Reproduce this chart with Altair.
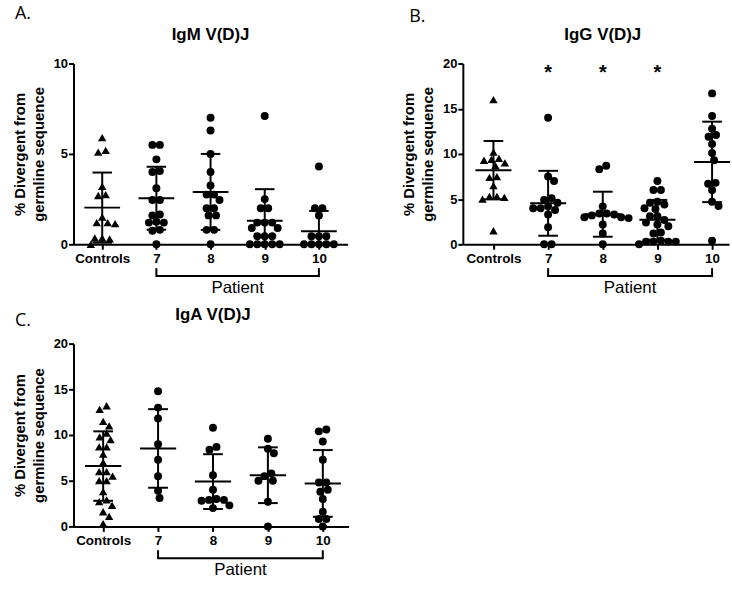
import altair as alt
import pandas as pd

# ---------------- data ----------------
groups = ["Controls", "7", "8", "9", "10"]
patient_groups = ["7", "8", "9", "10"]

# A. IgM V(D)J
igm_controls = [5.9, 5.2, 5.1, 3.2, 2.75, 2.7, 1.5, 1.2, 1.2, 1.15, 0.35, 0.35, 0.3, 0.0]
igm_p7 = [5.5, 5.5, 4.7, 4.05, 4.0, 3.1, 2.45, 2.45, 1.65, 1.6, 1.25, 1.2, 1.2, 0.8, 0.75, 0.0]
igm_p8 = [7.0, 6.3, 5.0, 4.0, 3.25, 2.75, 2.75, 2.45, 2.0, 2.0, 1.6, 1.6, 0.8, 0.8, 0.0]
igm_p9 = [7.1, 2.5, 2.0, 2.0, 1.2, 1.2, 1.2, 0.9, 0.9, 0.45, 0.45, 0.45, 0.0, 0.0, 0.0, 0.0, 0.0]
igm_p10 = [4.3, 2.0, 2.0, 1.6, 0.45, 0.45, 0.45, 0.0, 0.0, 0.0, 0.0, 0.0]
igm_mean = [2.03, 2.55, 2.9, 1.3, 0.72]
igm_sd = [1.94, 1.74, 2.1, 1.75, 1.13]

# B. IgG V(D)J
igg_controls = [16.0, 10.2, 9.5, 9.4, 9.3, 9.0, 8.7, 7.5, 7.4, 6.5, 5.3, 5.3, 5.2, 5.0, 1.5]
igg_p7 = [14.0, 7.5, 7.0, 5.1, 4.9, 4.6, 4.2, 4.0, 4.0, 3.8, 3.3, 1.9, 0.0, 0.0]
igg_p8 = [8.7, 8.3, 4.2, 3.4, 3.4, 3.3, 3.2, 3.0, 3.0, 2.9, 2.2, 1.2, 0.0]
igg_p9 = [7.0, 6.0, 6.0, 4.7, 4.6, 4.4, 4.0, 3.9, 3.1, 3.1, 2.7, 2.4, 2.2, 2.0, 1.3, 1.2,
          0.4, 0.3, 0.3, 0.3, 0.3, 0.0]
igg_p10 = [16.7, 14.2, 12.8, 12.1, 11.9, 11.1, 10.1, 9.3, 6.8, 6.7, 6.0, 4.7, 4.25, 0.4]
igg_mean = [8.2, 4.54, 3.33, 2.71, 9.12]
igg_sd = [3.23, 3.59, 2.49, 2.2, 4.45]
igg_star_groups = ["7", "8", "9"]
igg_star_level = 19.4

# C. IgA V(D)J
iga_controls = [13.2, 12.8, 11.5, 11.0, 10.2, 9.8, 9.5, 8.7, 8.7, 7.9, 7.0, 6.0, 6.0, 5.5,
                5.0, 5.0, 3.8, 2.9, 2.7, 2.3, 1.6, 1.1, 0.3]
iga_p7 = [14.8, 13.0, 11.8, 9.0, 7.3, 5.5, 3.9, 3.1]
iga_p8 = [10.8, 8.7, 8.4, 5.6, 4.0, 3.0, 2.9, 2.8, 2.9, 2.3, 2.0]
iga_p9 = [9.6, 8.5, 8.0, 5.8, 5.5, 5.0, 5.0, 2.7, 0.0]
iga_p10 = [10.6, 10.4, 9.3, 7.3, 4.8, 4.8, 4.0, 3.8, 3.0, 1.6, 0.8, 0.8, 0.0]
iga_mean = [6.6, 8.53, 4.9, 5.6, 4.7]
iga_sd = [3.8, 4.3, 3.0, 3.05, 3.65]

y_title = ["% Divergent from", "germline sequence"]
patient_label = "Patient"

FONT = "Liberation Sans"
INK = "#000000"


def swarm_offsets(vals, ppy, d=7.5):
    """Column-scatter layout: horizontal pixel offsets so that dots do not pile up."""
    n = len(vals)
    order = sorted(range(n), key=lambda i: -vals[i])
    rows = []
    for i in order:
        if rows and (vals[rows[-1][0]] - vals[i]) * ppy < 4.0:
            rows[-1].append(i)
        else:
            rows.append([i])
    placed = []
    offs = [0.0] * n

    def free(x, y, pts):
        return all((x - px) ** 2 + (y - py) ** 2 >= d * d - 1e-9 for px, py in pts)

    for row in rows:
        cur = []
        for k, i in enumerate(row):
            y = vals[i] * ppy
            sgn = 1 if k % 2 == 0 else -1
            j = 0
            x = 0.0
            while True:
                cands = [0.0] if j == 0 else [sgn * j * 0.5, -sgn * j * 0.5]
                hit = None
                for c in cands:
                    if free(c, y, placed + [(p[0], p[1]) for p in cur]):
                        hit = c
                        break
                if hit is not None:
                    x = hit
                    break
                j += 1
            cur.append((x, y, i))
        m = sum(p[0] for p in cur) / len(cur)
        # slide the whole row so it sits as centred as collisions allow
        shifts = sorted((s * 0.5 for s in range(-80, 81)), key=lambda t: (abs(m + t), abs(t)))
        for t in shifts:
            shifted = [(p[0] + t, p[1], p[2]) for p in cur]
            if all(free(p[0], p[1], placed) for p in shifted):
                cur = shifted
                break
        for x, y, i in cur:
            offs[i] = x
        placed += [(x, y) for x, y, _ in cur]
    return offs


def panel(letter, letter_xy, title, ymax, yticks, width, height, xdom, series,
          means, sds, stars=None):
    ppx = width / (xdom[1] - xdom[0])
    ppy = height / ymax
    recs = []
    for gi, vals in enumerate(series):
        offs = swarm_offsets(vals, ppy)
        kind = "control" if gi == 0 else "patient"
        for v, o in zip(vals, offs):
            recs.append({"pos": gi + o / ppx, "value": v, "kind": kind})
    pts = pd.DataFrame(recs)

    xs = alt.Scale(domain=xdom, nice=False, zero=False)
    ys = alt.Scale(domain=[0, ymax], nice=False)
    label_expr = "[" + ",".join("'%s'" % g for g in groups) + "][datum.value]"
    xaxis = alt.Axis(values=list(range(len(groups))), labelExpr=label_expr, title=None,
                     grid=False, tickSize=5, tickWidth=2, tickColor=INK, domainColor=INK,
                     domainWidth=2, labelFont=FONT, labelFontSize=13.5,
                     labelFontWeight="bold", labelColor=INK, labelPadding=2, labelAngle=0)
    yaxis = alt.Axis(values=yticks, title=y_title, titleFont=FONT, titleFontSize=15,
                     titleFontWeight="bold", titleColor=INK, titlePadding=7,
                     titleLineHeight=19, grid=False, tickSize=5, tickWidth=2,
                     tickColor=INK, domainColor=INK, domainWidth=2, labelFont=FONT,
                     labelFontSize=13, labelFontWeight="bold", labelColor=INK,
                     labelPadding=1)

    def X(f):
        return alt.X(f, scale=xs, axis=xaxis)

    def Y(f):
        return alt.Y(f, scale=ys, axis=yaxis)

    points = alt.Chart(pts).mark_point(filled=True, opacity=1, strokeWidth=0).encode(
        x=X("pos:Q"),
        y=Y("value:Q"),
        shape=alt.Shape("kind:N", scale=alt.Scale(domain=["control", "patient"],
                                                  range=["triangle-up", "circle"]),
                        legend=None),
        size=alt.Size("kind:N", scale=alt.Scale(domain=["control", "patient"],
                                                range=[72, 64]), legend=None),
        color=alt.value(INK),
    )

    st = pd.DataFrame({"gi": list(range(len(groups))), "mean": means, "sd": sds})
    st["hi"] = st["mean"] + st["sd"]
    st["lo"] = (st["mean"] - st["sd"]).clip(lower=0)
    st["mx1"] = st["gi"] - 0.33
    st["mx2"] = st["gi"] + 0.33
    st["cx1"] = st["gi"] - 0.18
    st["cx2"] = st["gi"] + 0.18
    caps_hi = st[["cx1", "cx2", "hi"]].rename(columns={"hi": "cap"})
    caps_lo = st.loc[st["mean"] - st["sd"] > 0, ["cx1", "cx2", "lo"]].rename(columns={"lo": "cap"})
    caps = pd.concat([caps_hi, caps_lo], ignore_index=True)

    rule = dict(color=INK, strokeWidth=2)
    mean_lines = alt.Chart(st).mark_rule(**rule).encode(
        x=X("mx1:Q"), x2="mx2:Q", y=Y("mean:Q"))
    sd_lines = alt.Chart(st).mark_rule(**rule).encode(
        x=X("gi:Q"), y=Y("lo:Q"), y2="hi:Q")
    cap_lines = alt.Chart(caps).mark_rule(**rule).encode(
        x=X("cx1:Q"), x2="cx2:Q", y=Y("cap:Q"))

    p_idx = [groups.index(g) for g in patient_groups]
    br = pd.DataFrame({"a": [min(p_idx)], "b": [max(p_idx)]})
    br_h = alt.Chart(br).mark_rule(**rule).encode(
        x=X("a:Q"), x2="b:Q", y=alt.value(height + 32))
    br_v = alt.Chart(pd.DataFrame({"gi": [min(p_idx), max(p_idx)]})).mark_rule(**rule).encode(
        x=X("gi:Q"), y=alt.value(height + 24), y2=alt.value(height + 33))
    pat = alt.Chart(pd.DataFrame({"pos": [(min(p_idx) + max(p_idx)) / 2],
                                  "t": [patient_label]})).mark_text(
        font=FONT, fontSize=17, color=INK, baseline="middle").encode(
        x=X("pos:Q"), y=alt.value(height + 44), text="t:N")

    ttl = alt.Chart(pd.DataFrame({"pos": [(len(groups) - 1) / 2], "t": [title]})).mark_text(
        font=FONT, fontSize=17, fontWeight="bold", color=INK, baseline="alphabetic").encode(
        x=X("pos:Q"), y=alt.value(-24), text="t:N")
    let = alt.Chart(pd.DataFrame({"t": [letter]})).mark_text(
        font="Open Sans", fontSize=18, color=INK, align="left", baseline="middle").encode(
        x=alt.value(letter_xy[0]), y=alt.value(letter_xy[1]), text="t:N")

    layers = [points, mean_lines, sd_lines, cap_lines, br_h, br_v, pat, ttl, let]
    if stars:
        sdf = pd.DataFrame({"gi": [groups.index(g) for g in stars[0]],
                            "v": [stars[1]] * len(stars[0])})
        layers.append(alt.Chart(sdf).mark_text(
            text="*", font=FONT, fontSize=20, fontWeight="bold", color=INK,
            baseline="middle", dy=4).encode(x=X("gi:Q"), y=Y("v:Q")))
    return alt.layer(*layers).properties(width=width, height=height)


A = panel("A.", (-59, -50), "IgM V(D)J", 10, [0, 5, 10], 276, 182, [-0.53, 4.53],
          [igm_controls, igm_p7, igm_p8, igm_p9, igm_p10], igm_mean, igm_sd)
B = panel("B.", (-54, -47), "IgG V(D)J", 20, [0, 5, 10, 15, 20], 268, 182, [-0.56, 4.31],
          [igg_controls, igg_p7, igg_p8, igg_p9, igg_p10], igg_mean, igg_sd,
          stars=(igg_star_groups, igg_star_level))
C = panel("C.", (-59, -23), "IgA V(D)J", 20, [0, 5, 10, 15, 20], 277, 184, [-0.54, 4.47],
          [iga_controls, iga_p7, iga_p8, iga_p9, iga_p10], iga_mean, iga_sd)

chart = alt.concat(A, B, C, columns=2, spacing={"row": 100, "column": 115},
                   bounds="flush").properties(
    padding={"left": 12, "top": 2, "right": 0, "bottom": 0},
    background="white",
).configure_view(stroke="transparent")

chart.save("out.html", embed_options={"renderer": "svg", "actions": False})
